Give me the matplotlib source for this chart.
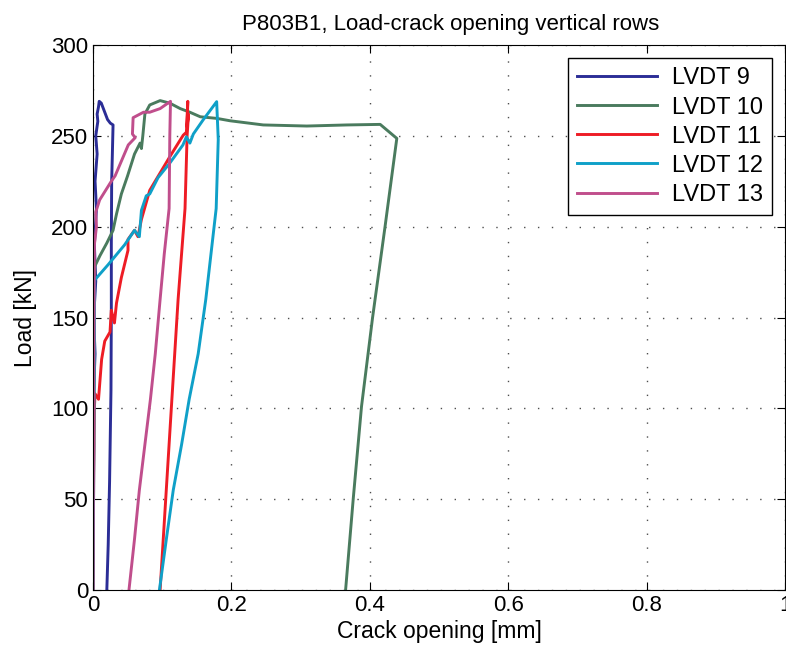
import matplotlib.pyplot as plt

plt.rcParams['font.family'] = ['Liberation Sans', 'DejaVu Sans']

# LVDT 9
x9 = [0, 0.001, 0.0, 0.003, 0.001, 0.004, 0.002, 0.005, 0.003, 0.006, 0.004, 0.007, 0.006, 0.008,
      0.009, 0.012, 0.016, 0.021, 0.025, 0.029,
      0.028, 0.027, 0.0265, 0.0265, 0.026, 0.024, 0.022, 0.020]
y9 = [0, 80, 100, 130, 150, 170, 190, 210, 225, 240, 250, 258, 262, 266,
      269, 268, 264, 259, 257, 256,
      240, 225, 190, 154, 110, 60, 25, 0]

# LVDT 10
x10 = [0, 0.001, 0.002, 0.0024, 0.010, 0.020, 0.029, 0.034, 0.041, 0.050, 0.060, 0.068, 0.070, 0.072,
       0.075, 0.082, 0.097, 0.111, 0.126, 0.140, 0.155, 0.179, 0.198, 0.246, 0.309, 0.367, 0.415,
       0.439, 0.422, 0.404, 0.388, 0.376, 0.365]
y10 = [0, 80, 140, 178, 184, 191, 198, 207, 218, 228, 240, 246, 243, 250,
       262, 267, 269.4, 268, 265, 263, 260.5, 259.6, 258.3, 256, 255.4, 256, 256.3,
       248.6, 200, 150, 101, 50, 0]

# LVDT 11
x11 = [0, 0.001, 0.002, 0.003, 0.008, 0.0125, 0.017, 0.0246, 0.0265, 0.029, 0.031, 0.034, 0.041, 0.0506,
       0.0506, 0.060, 0.065, 0.070, 0.082, 0.111, 0.126, 0.1305, 0.135, 0.137, 0.136, 0.138, 0.136,
       0.133, 0.123, 0.114, 0.097]
y11 = [0, 60, 100, 108, 105, 127, 137, 142, 154, 150, 147, 158, 172, 187,
       193, 198, 194.5, 204, 220, 238.5, 247.7, 250.4, 252, 269, 255, 262, 250,
       210, 160, 105, 0]

# LVDT 12
x12 = [0, 0.001, 0.002, 0.0024, 0.0217, 0.0457, 0.060, 0.067, 0.070, 0.077, 0.082, 0.094, 0.111,
       0.130, 0.135, 0.140, 0.145, 0.159, 0.1787, 0.181, 0.178, 0.169, 0.163, 0.152, 0.139,
       0.128, 0.116, 0.106, 0.096]
y12 = [0, 60, 140, 170.6, 179, 190, 198, 194.5, 209, 217, 218, 227, 235,
       245, 249.5, 246, 251, 258.7, 268.8, 248, 210, 180, 160, 130, 105,
       80, 55, 28, 0]

# LVDT 13
x13 = [0, 0.001, 0.002, 0.005, 0.004, 0.0096, 0.026, 0.032, 0.051, 0.061, 0.057, 0.058, 0.073, 0.082,
       0.097, 0.112, 0.111, 0.110, 0.103, 0.097, 0.090, 0.083, 0.075, 0.067, 0.060, 0.052]
y13 = [0, 100, 190, 200, 208, 214.7, 224.7, 228, 245, 249, 251, 260, 263, 263,
       265, 269, 250, 210, 185, 160, 130, 105, 80, 55, 28, 0]

series = [(x9, y9, 'LVDT 9', '#2b2d96'),
          (x10, y10, 'LVDT 10', '#4a7b5e'),
          (x11, y11, 'LVDT 11', '#ee1c25'),
          (x12, y12, 'LVDT 12', '#0fa0c8'),
          (x13, y13, 'LVDT 13', '#c04e8c')]

fig = plt.figure(figsize=(7.86, 6.59), dpi=100)
ax = fig.add_axes([0.1183, 0.1047, 0.8805, 0.827])

for x, y, lab, c in series:
    ax.plot(x, y, color=c, linewidth=2.1, label=lab)

ax.set_xlim(0, 1)
ax.set_ylim(0, 300)
ax.set_xticks([0, 0.2, 0.4, 0.6, 0.8, 1])
ax.set_xticklabels(['0', '0.2', '0.4', '0.6', '0.8', '1'])
ax.set_yticks(range(0, 301, 50))
ax.tick_params(direction='in', top=True, right=True, length=6, labelsize=16, width=0.8)
ax.grid(True, linestyle=(0, (1, 9)), color='0.3', linewidth=1)

ax.set_title('P803B1, Load-crack opening vertical rows', fontsize=16, pad=11, x=0.517)
ax.set_xlabel('Crack opening [mm]', fontsize=16.5, labelpad=3)
ax.set_ylabel('Load [kN]', fontsize=16.5, labelpad=10)

leg = ax.legend(loc='upper right', fontsize=17, handlelength=3.4, fancybox=False,
                edgecolor='black', framealpha=1, borderaxespad=0.55, labelspacing=0.3,
                handletextpad=0.6, borderpad=0.4)
leg.get_frame().set_linewidth(1)

plt.savefig('out.png', dpi=100)
